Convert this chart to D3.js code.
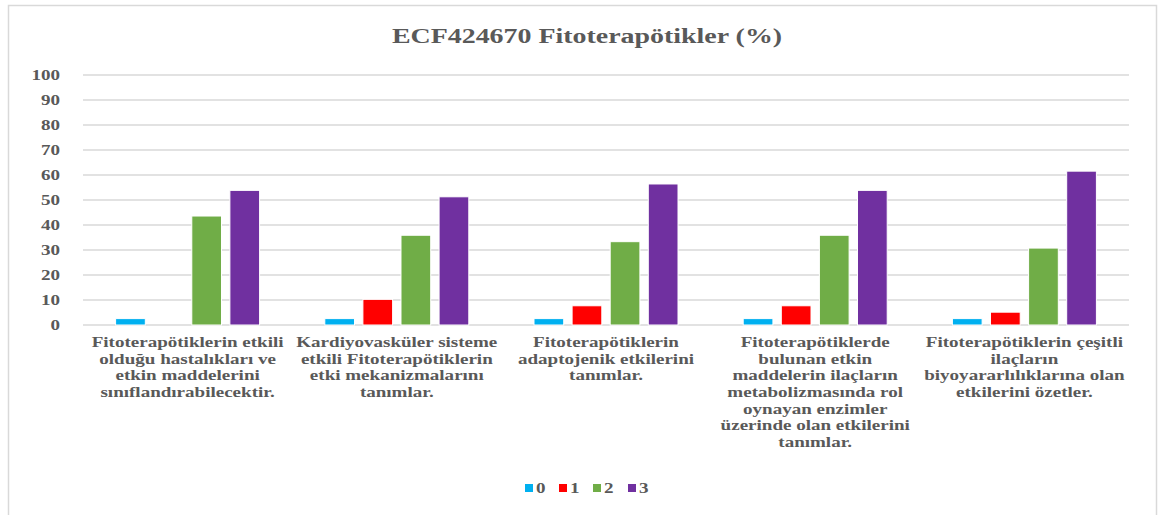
<!DOCTYPE html>
<html>
<head>
<meta charset="utf-8">
<script src="https://cdn.jsdelivr.net/npm/d3@7"></script>
<style>
  body { margin: 0; background: #fff; }
  text { font-family: "Liberation Serif", "Times New Roman", serif; font-weight: bold; fill: #595959; }
</style>
</head>
<body>
<svg id="chart" width="1162" height="515"></svg>
<script>
// categories (x axis labels, pre-wrapped as in the original)
var categories = [
    ["Fitoterapötiklerin etkili", "olduğu hastalıkları ve", "etkin maddelerini", "sınıflandırabilecektir."],
    ["Kardiyovasküler sisteme", "etkili Fitoterapötiklerin", "etki mekanizmalarını", "tanımlar."],
    ["Fitoterapötiklerin", "adaptojenik etkilerini", "tanımlar."],
    ["Fitoterapötiklerde", "bulunan etkin", "maddelerin ilaçların", "metabolizmasında rol", "oynayan enzimler", "üzerinde olan etkilerini", "tanımlar."],
    ["Fitoterapötiklerin çeşitli", "ilaçların", "biyoyararlılıklarına olan", "etkilerini özetler."]
];
var seriesNames = ["0", "1", "2", "3"];
var s0 = [2.56, 2.56, 2.56, 2.56, 2.56];
var s1 = [0, 10.26, 7.69, 7.69, 5.13];
var s2 = [43.59, 35.9, 33.33, 35.9, 30.77];
var s3 = [53.85, 51.28, 56.41, 53.85, 61.54];
var yTicks = [0, 10, 20, 30, 40, 50, 60, 70, 80, 90, 100];
var colors = ["#00B0F0", "#FF0000", "#70AD47", "#7030A0"];

var series = [s0, s1, s2, s3];
var sx = 1.27; // glyphs in the original look horizontally stretched

var svg = d3.select("#chart");

// chart frame
svg.append("rect")
    .attr("x", 8.5).attr("y", 5.5)
    .attr("width", 1148).attr("height", 512)
    .attr("fill", "none")
    .attr("stroke", "#d9d9d9")
    .attr("stroke-width", 1.5);

var plotLeft = 83, plotRight = 1129, plotTop = 75, plotBottom = 325;

var x = d3.scaleBand()
    .domain(d3.range(categories.length))
    .range([plotLeft, plotRight]);

var x1 = d3.scaleBand()
    .domain(d3.range(series.length))
    .range([0, 144])
    .paddingInner(0.22);

var y = d3.scaleLinear().domain([0, 100]).range([plotBottom, plotTop]);

// gridlines
svg.append("g")
    .selectAll("line")
    .data(yTicks)
    .join("line")
    .attr("x1", plotLeft).attr("x2", plotRight)
    .attr("y1", d => y(d)).attr("y2", d => y(d))
    .attr("stroke", "#d9d9d9")
    .attr("stroke-width", 1.5);

// y tick labels
svg.append("g")
    .selectAll("text")
    .data(yTicks)
    .join("text")
    .attr("transform", d => "translate(60," + (y(d) + 5) + ") scale(" + sx + ",1)")
    .attr("text-anchor", "end")
    .style("font-size", "15px")
    .text(d => d);

// bars
var groups = svg.append("g")
    .selectAll("g")
    .data(categories)
    .join("g")
    .attr("transform", (d, i) => "translate(" + (x(i) + x.bandwidth() / 2 - 72) + ",0)");

groups.selectAll("rect")
    .data((d, i) => series.map((s, k) => ({ k: k, v: s[i] })))
    .join("rect")
    .filter(d => d.v > 0)
    .attr("x", d => x1(d.k))
    .attr("y", d => y(d.v))
    .attr("width", x1.bandwidth())
    .attr("height", d => plotBottom - y(d.v))
    .attr("fill", d => colors[d.k])
    .attr("stroke", "#fff")
    .attr("stroke-width", 1);

// category labels
var labels = svg.append("g")
    .selectAll("text")
    .data(categories)
    .join("text")
    .attr("transform", (d, i) => "translate(" + (x(i) + x.bandwidth() / 2) + ",347) scale(" + sx + ",1)")
    .attr("text-anchor", "middle")
    .style("font-size", "15px");

labels.selectAll("tspan")
    .data(d => d)
    .join("tspan")
    .attr("x", 0)
    .attr("dy", (d, j) => j === 0 ? 0 : 16.7)
    .text(d => d);

// title
svg.append("text")
    .attr("transform", "translate(587,43) scale(" + sx + ",1)")
    .attr("text-anchor", "middle")
    .style("font-size", "22px")
    .text("ECF424670 Fitoterapötikler (%)");

// legend
var legendX = [525, 559, 593, 628];
var legend = svg.append("g")
    .selectAll("g")
    .data(seriesNames)
    .join("g")
    .attr("transform", (d, i) => "translate(" + legendX[i] + ",484)");

legend.append("rect")
    .attr("width", 8).attr("height", 8)
    .attr("fill", (d, i) => colors[i]);

legend.append("text")
    .attr("transform", "translate(11,9) scale(" + sx + ",1)")
    .style("font-size", "15px")
    .text(d => d);
</script>
</body>
</html>
